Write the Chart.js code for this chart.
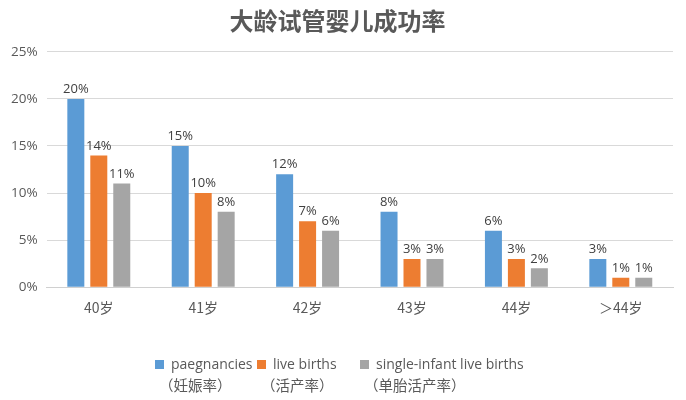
<!DOCTYPE html>
<html><head><meta charset="utf-8">
<script src="https://cdn.jsdelivr.net/npm/chart.js@4.4.0/dist/chart.umd.min.js"></script>
<style>
html,body{margin:0;padding:0;background:#fff;}
#wrap{position:relative;width:686px;height:400px;}
#legend{position:absolute;left:0;top:354px;width:686px;height:46px;font-family:"Open Sans","Noto Sans CJK SC",sans-serif;font-size:14px;color:#595959;}
.item{position:absolute;top:0;}
.sq{display:inline-block;width:9px;height:9px;margin-right:7px;vertical-align:0px;}
.l2{display:block;margin-top:1px;padding-left:4px;font-family:"Noto Sans CJK SC",sans-serif;font-size:14.5px;}
</style></head>
<body><div id="wrap"><canvas id="c" width="686" height="400"></canvas><div id="legend"></div></div>
<script>
const categories = ["40岁","41岁","42岁","43岁","44岁","＞44岁"];
const pregnancies = [20,15,12,8,6,3];
const liveBirths = [14,10,7,3,3,1];
const singleLiveBirths = [11,8,6,3,2,1];
const seriesNames = ["paegnancies","live births","single-infant live births"];
const seriesNamesCn = ["（妊娠率）","（活产率）","（单胎活产率）"];
const colors = ["#5B9BD5","#ED7D31","#A5A5A5"];
const yTicks = [0,5,10,15,20,25];

const labelPlugin = {
  id:'lbl',
  afterDatasetsDraw(chart){
    const ctx = chart.ctx;
    ctx.save();
    ctx.font = '13px "Open Sans", sans-serif';
    ctx.fillStyle = '#404040';
    ctx.textAlign = 'center';
    ctx.textBaseline = 'bottom';
    chart.data.datasets.forEach((ds,i)=>{
      chart.getDatasetMeta(i).data.forEach((bar,j)=>{
        ctx.fillText(ds.data[j]+'%', bar.x, bar.y-3);
      });
    });
    ctx.restore();
  }
};

const data = [pregnancies, liveBirths, singleLiveBirths];
new Chart(document.getElementById('c'),{
  type:'bar',
  data:{labels:categories,datasets:data.map((d,i)=>({label:seriesNames[i],data:d,backgroundColor:colors[i],categoryPercentage:0.66,barPercentage:0.74}))},
  options:{
    responsive:false,animation:false,
    layout:{padding:{left:2,right:13,top:0,bottom:80}},
    plugins:{
      legend:{display:false},tooltip:{enabled:false},
      title:{display:true,text:'大龄试管婴儿成功率',color:'#595959',font:{family:'"Noto Sans CJK SC"',size:24,weight:'bold'},padding:{top:6,bottom:17}}
    },
    scales:{
      x:{grid:{display:false},border:{color:'#d0d0d0'},ticks:{color:'#595959',font:{family:'"Noto Sans CJK SC"',size:14},padding:4}},
      y:{min:0,max:25,afterBuildTicks(ax){ax.ticks=yTicks.map(v=>({value:v}));},
         grid:{color:'#d9d9d9',drawTicks:false},border:{display:false},
         ticks:{color:'#595959',font:{family:'"Open Sans"',size:13.5},callback:v=>v+'%',padding:9}}
    }
  },
  plugins:[labelPlugin]
});

const pos = [[155,160],[257,270],[360,370]];
const lg = document.getElementById('legend');
seriesNames.forEach((n,i)=>{
  const d=document.createElement('div');d.className='item';d.style.left=pos[i][0]+'px';
  d.innerHTML='<span class="sq" style="background:'+colors[i]+'"></span>'+n+'<span class="l2">'+seriesNamesCn[i]+'</span>';
  lg.appendChild(d);
});
</script></body></html>
